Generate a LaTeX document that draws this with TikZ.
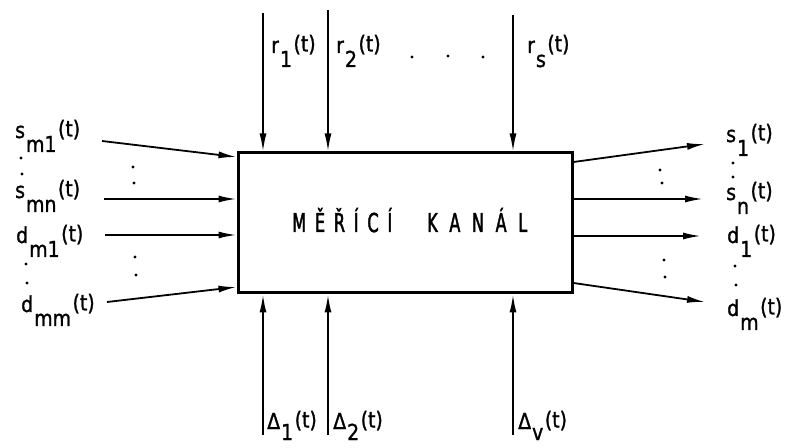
\documentclass[tikz,border=0pt]{standalone}
\usepackage{fontspec}
\setmainfont[FakeStretch=0.86,FakeBold=1.2]{DejaVu Sans}
\newfontfamily\boxfont[FakeStretch=0.62,FakeBold=1.6]{DejaVu Sans}
\usetikzlibrary{arrows.meta}
\newcommand\sig[2]{#1\kern1bp\raisebox{-14bp}{#2}\kern1.5bp\raisebox{1.5bp}{(t)}}
\newcommand\sigb[2]{#1\kern1bp\raisebox{-11bp}{#2}\kern1.5bp\raisebox{1.5bp}{(t)}}
\begin{document}
\begin{tikzpicture}[x=1bp,y=-1bp,
  arr/.style={line width=1.8bp,-{Latex[length=18bp,width=7bp]}},
  lab/.style={anchor=base west,inner sep=0pt,font=\fontsize{22bp}{26bp}\selectfont},
  dotmark/.style={circle,fill,inner sep=0pt,minimum size=3.4bp},
  boxtext/.style={anchor=base west,inner sep=0pt,font=\boxfont\fontsize{26bp}{30bp}\selectfont}]
\useasboundingbox (0,0) rectangle (789,448);
% main block
\node[draw,line width=3bp,minimum width=334bp,minimum height=140bp,inner sep=0pt] (box) at (405,223) {};
\node[boxtext] (w1) at (292,232) {\makebox[100bp][s]{M\hfill Ě\hfill Ř\hfill Í\hfill C\hfill Í}};
\node[boxtext] (w2) at (427,232) {\makebox[100bp][s]{K\hfill A\hfill N\hfill Á\hfill L}};
% top inputs
\coordinate (ta1) at (263,13);  \coordinate (tb1) at (263,151.5);
\coordinate (ta2) at (328,10);  \coordinate (tb2) at (328,151.5);
\coordinate (ta3) at (513,15);  \coordinate (tb3) at (513,151.5);
\draw[arr] (ta1) -- (tb1);
\draw[arr] (ta2) -- (tb2);
\draw[arr] (ta3) -- (tb3);
\node[lab] (r1) at (271,53) {\sig{r}{1}};
\node[lab] (r2) at (336,53) {\sig{r}{2}};
\node[lab] (rs) at (527,53) {\sig{r}{s}};
\node[dotmark] (td1) at (412,57) {};
\node[dotmark] (td2) at (448,56) {};
\node[dotmark] (td3) at (483,57) {};
% bottom inputs
\coordinate (ba1) at (263,435);  \coordinate (bb1) at (263,294.5);
\coordinate (ba2) at (328,435);  \coordinate (bb2) at (328,294.5);
\coordinate (ba3) at (513,435);  \coordinate (bb3) at (513,294.5);
\draw[arr] (ba1) -- (bb1);
\draw[arr] (ba2) -- (bb2);
\draw[arr] (ba3) -- (bb3);
\node[lab] (d1) at (267,429) {\sigb{Δ}{1}};
\node[lab] (d2) at (333,429) {\sigb{Δ}{2}};
\node[lab] (dv) at (518,429) {\sigb{Δ}{v}};
% left inputs
\coordinate (la1) at (102,141); \coordinate (lb1) at (236.5,157);
\coordinate (la2) at (104,199); \coordinate (lb2) at (236.5,199);
\coordinate (la3) at (105,235); \coordinate (lb3) at (236.5,235);
\coordinate (la4) at (107,302); \coordinate (lb4) at (236.5,287);
\draw[arr] (la1) -- (lb1);
\draw[arr] (la2) -- (lb2);
\draw[arr] (la3) -- (lb3);
\draw[arr] (la4) -- (lb4);
\node[lab] (sm1) at (15,138) {\sig{s}{m1}};
\node[lab] (smn) at (15,198) {\sig{s}{mn}};
\node[lab] (dm1) at (16,243) {\sig{d}{m1}};
\node[lab] (dmm) at (21,312) {\sig{d}{mm}};
\node[dotmark] at (21,158) {};
\node[dotmark] at (22,174) {};
\node[dotmark] at (26,264) {};
\node[dotmark] at (27,283) {};
\node[dotmark] at (133,167) {};
\node[dotmark] at (134,183) {};
\node[dotmark] at (135,257) {};
\node[dotmark] at (136,275) {};
% right outputs
\coordinate (ra1) at (573.5,162); \coordinate (rb1) at (705,144);
\coordinate (ra2) at (573.5,199); \coordinate (rb2) at (703,199);
\coordinate (ra3) at (573.5,236); \coordinate (rb3) at (701,236);
\coordinate (ra4) at (573.5,283); \coordinate (rb4) at (705,302);
\draw[arr] (ra1) -- (rb1);
\draw[arr] (ra2) -- (rb2);
\draw[arr] (ra3) -- (rb3);
\draw[arr] (ra4) -- (rb4);
\node[lab] (s1) at (726,142) {\sig{s}{1}};
\node[lab] (sn) at (726,200) {\sig{s}{n}};
\node[lab] (o1) at (727,243) {\sig{d}{1}};
\node[lab] (om) at (727,316) {\sig{d}{m}};
\node[dotmark] at (733,163) {};
\node[dotmark] at (733,177) {};
\node[dotmark] at (735,266) {};
\node[dotmark] at (736,285) {};
\node[dotmark] at (660,170) {};
\node[dotmark] at (662,183) {};
\node[dotmark] at (664,260) {};
\node[dotmark] at (665,277) {};
\end{tikzpicture}
\end{document}
